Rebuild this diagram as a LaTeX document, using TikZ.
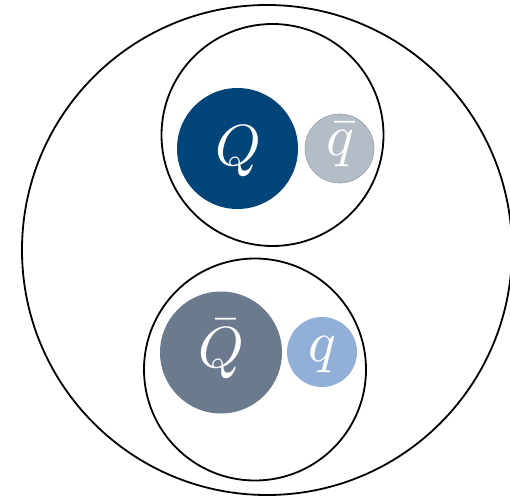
\documentclass[tikz,border=0pt]{standalone}
\usepackage{graphicx}
\newcommand{\bigsym}[1]{\scalebox{5.8}{$#1$}}
\begin{document}
\begin{tikzpicture}[x=1pt,y=-1pt,
  ring/.style={draw=black,line width=1.8pt,circle},
  quark/.style={circle,inner sep=0pt,text=white},
]
\useasboundingbox (0,0) rectangle (510,497);
\definecolor{qdark}{RGB}{3,69,120}
\definecolor{qgrey}{RGB}{180,188,198}
\definecolor{qslate}{RGB}{107,122,140}
\definecolor{qlight}{RGB}{145,175,215}
\draw[ring] (267,250) circle (245);
\draw[ring] (272.5,135) circle (111);
\draw[ring] (255,369.5) circle (111);
\fill[qdark] (237.5,148.5) circle (60.5);
\node[quark] (Q) at (238,151) {\bigsym{Q}};
\fill[qgrey,draw=qgrey!85!black,line width=0.6pt] (339.5,148.5) circle (34.5);
\node[quark] (qb) at (340,145) {\bigsym{\bar q}};
\fill[qslate] (221,352.5) circle (61);
\node[quark] (Qb) at (221,349) {\bigsym{\bar Q}};
\fill[qlight] (322,352) circle (35);
\node[quark] (q) at (322,355) {\bigsym{q}};
\end{tikzpicture}
\end{document}
